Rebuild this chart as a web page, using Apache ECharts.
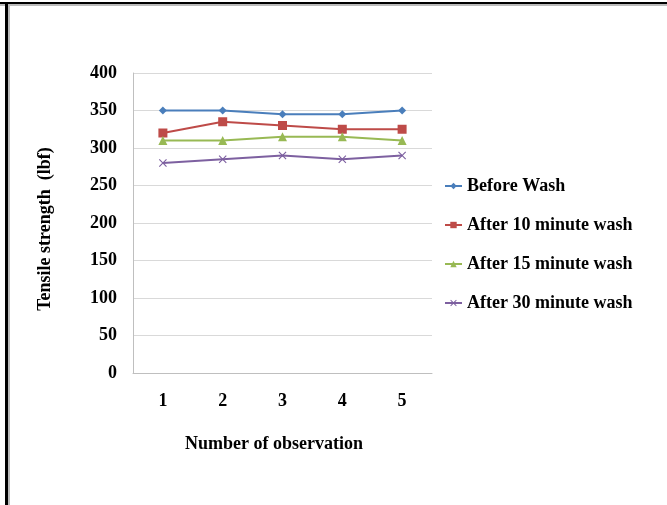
<!DOCTYPE html>
<html><head><meta charset="utf-8">
<script src="https://cdn.jsdelivr.net/npm/echarts@6/dist/echarts.min.js"></script>
<style>html,body{margin:0;padding:0;background:#fff}#c{width:667px;height:505px}</style>
</head><body><div id="c"></div>
<script>
const categories = ['1','2','3','4','5'];
const beforeWash = [350, 350, 345, 345, 350];
const after10 = [320, 335, 330, 325, 325];
const after15 = [310, 310, 315, 315, 310];
const after30 = [280, 285, 290, 285, 290];
const seriesNames = ['Before Wash','After 10 minute wash','After 15 minute wash','After 30 minute wash'];
const xTitle = 'Number of observation';
const yTitle = 'Tensile strength  (lbf)';
const font = 'Liberation Serif';
const chart = echarts.init(document.getElementById('c'), null, {renderer:'canvas'});
const crossPath = 'path://M0,1L1,0L5,4L9,0L10,1L6,5L10,9L9,10L5,6L1,10L0,9L4,5Z';
const mk = (name, data, color, symbol, size) => ({
  name, type:'line', data, symbol, symbolSize:size,
  itemStyle:{color}, lineStyle:{color, width:2}, animation:false
});
chart.setOption({
  animation:false,
  graphic:[
    {type:'rect', shape:{x:0,y:2,width:667,height:2}, style:{fill:'#000'}},
    {type:'rect', shape:{x:0,y:4,width:667,height:2}, style:{fill:'#bbb'}},
    {type:'rect', shape:{x:5,y:2,width:3,height:503}, style:{fill:'#000'}},
    {type:'rect', shape:{x:8,y:4,width:2,height:501}, style:{fill:'#bbb'}},
    {type:'text', x:45, y:229, rotation:Math.PI/2, style:{text:yTitle, font:'bold 18px "Liberation Serif"', fill:'#000', align:'center', verticalAlign:'middle'}},
    {type:'text', x:274, y:444, style:{text:xTitle, font:'bold 18px "Liberation Serif"', fill:'#000', align:'center', verticalAlign:'middle'}}
  ],
  grid:{left:133, top:73, width:299, height:300, containLabel:false},
  legend:{
    orient:'vertical', left:439, top:172, itemGap:21, itemWidth:17, itemHeight:8,
    textStyle:{fontFamily:font, fontWeight:'bold', fontSize:18, color:'#000'},
    data:seriesNames
  },
  xAxis:{
    type:'category', data:categories, boundaryGap:true,
    axisLine:{lineStyle:{color:'#bfbfbf'}}, axisTick:{show:false},
    axisLabel:{fontFamily:font, fontWeight:'bold', fontSize:18, color:'#000', margin:19}
  },
  yAxis:{
    type:'value', min:0, max:400, interval:50,
    axisLine:{show:true, lineStyle:{color:'#bfbfbf'}}, axisTick:{show:false},
    splitLine:{lineStyle:{color:'#d9d9d9'}},
    axisLabel:{fontFamily:font, fontWeight:'bold', fontSize:18, color:'#000', margin:16}
  },
  series:[
    mk(seriesNames[0], beforeWash, '#4a7ebb', 'diamond', 8),
    mk(seriesNames[1], after10, '#be4b48', 'rect', 9),
    mk(seriesNames[2], after15, '#98b954', 'triangle', 9),
    mk(seriesNames[3], after30, '#7d60a0', crossPath, 8)
  ]
});
</script></body></html>
